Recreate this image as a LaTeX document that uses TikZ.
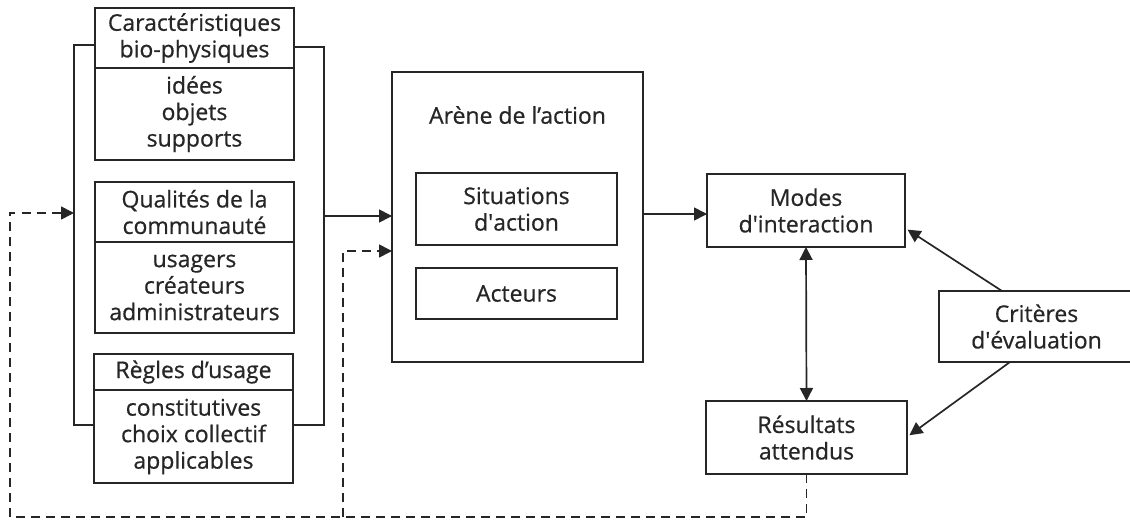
\documentclass[tikz,border=0pt]{standalone}
\usepackage{fontspec}
\setmainfont{Open Sans}[UprightFeatures={FakeBold=0.6}]
\usetikzlibrary{positioning,arrows.meta}
\definecolor{ink}{gray}{0.15}
\tikzset{
  box/.style={draw=ink, text=ink, line width=1.7pt, align=center, inner sep=0pt, outer sep=0pt,
    minimum width=199pt, font=\fontsize{23}{26.5}\selectfont},
  arr/.style={draw=ink, line width=1.7pt, -{Triangle[length=13pt,width=13pt]}},
  dbl/.style={arr, {Triangle[length=13pt,width=13pt]}-{Triangle[length=13pt,width=13pt]}},
  dsh/.style={arr, dash pattern=on 9pt off 6pt},
}
\begin{document}
\begin{tikzpicture}[x=1pt,y=-1pt]
  \useasboundingbox (0,0) rectangle (1130,521);
  \node[box, minimum height=60pt] (hd1) at (194.5,38) {Caractéristiques\\bio-physiques};
  \node[box, minimum height=92pt, below=0pt of hd1] (bd1) {idées\\objets\\supports};
  \node[box, minimum height=60pt] (hd2) at (194.5,212) {Qualités de la\\communauté};
  \node[box, minimum height=91pt, below=0pt of hd2] (bd2) {usagers\\créateurs\\administrateurs};
  \node[box, minimum height=36pt] (hd3) at (193.5,372) {Règles d’usage};
  \node[box, minimum height=93pt, below=0pt of hd3] (bd3) {constitutives\\choix collectif\\applicables};

  \coordinate (brin) at (74,213);
  \coordinate (brout) at (324,216);
  \draw[ink, line width=1.7pt] (hd1.west |- 0,45) -| (brin) |- (bd3.west |- 0,425);
  \draw[ink, line width=1.7pt] (hd1.east |- 0,47) -| (brout) |- (bd3.east |- 0,425);

  \node[box, minimum width=251pt, minimum height=290pt] (arena) at (517.5,217) {};
  \node[text=ink, font=\fontsize{23}{26.5}\selectfont] (arenat) at (517.5,115) {Arène de l’action};
  \node[box, minimum width=201pt, minimum height=72pt] (sit) at (516.5,209) {Situations\\d\textquotesingle action};
  \node[box, minimum width=201pt, minimum height=51pt] (act) at (516.5,293.5) {Acteurs};

  \node[box, minimum width=198pt, minimum height=73pt] (modes) at (806,210.5) {Modes\\d\textquotesingle interaction};
  \node[box, minimum width=201pt, minimum height=73pt] (res) at (806.5,437.5) {Résultats\\attendus};
  \node[box, minimum width=195pt, minimum height=71pt] (crit) at (1036.5,326.5) {Critères\\d\textquotesingle évaluation};

  \draw[arr] (brout) -- (arena.west |- brout);
  \draw[arr] (arena.east |- 0,214) -- (modes.west |- 0,214);
  \draw[dbl] (modes.south) -- (res.north);
  \draw[arr, shorten >=3pt] (crit.north -| 1002,0) -- (modes.east |- 0,228);
  \draw[arr, shorten >=3pt] (crit.south -| 1010,0) -- (res.east |- 0,437);

  \coordinate (jn) at (343,517);
  \draw[dsh] (res.south) |- (10,517) |- (brin);
  \draw[dsh] (jn) |- (arena.west |- 0,251);
\end{tikzpicture}
\end{document}
